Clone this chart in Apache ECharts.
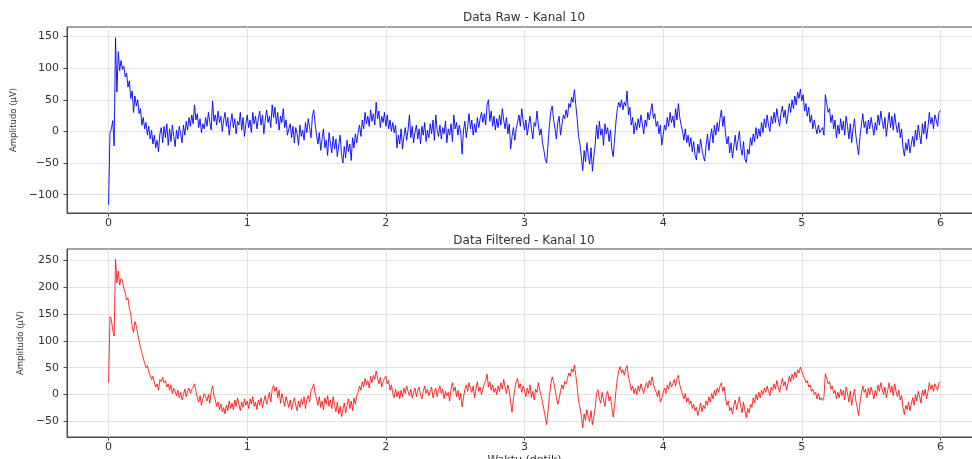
<!DOCTYPE html>
<html><head><meta charset="utf-8">
<script src="https://cdn.jsdelivr.net/npm/echarts@6/dist/echarts.min.js"></script>
<style>html,body{margin:0;padding:0;background:#fff;overflow:hidden}#c{width:972px;height:459px}</style>
</head><body><div id="c"></div><script>
const SAMPLE_RATE = 100; // samples per second (time axis, detik)
const titles = ['Data Raw - Kanal 10', 'Data Filtered - Kanal 10'];
const yLabel = 'Amplitudo (\u03bcV)';
const xLabel = 'Waktu (detik)';
const xTicks = [0, 1, 2, 3, 4, 5, 6];
const rawTicks = [-100, -50, 0, 50, 100, 150];
const filteredTicks = [-50, 0, 50, 100, 150, 200, 250];

const rawValues = [
-116,-2,4,17,-23,148,62,126,96,112,
98,103,86,92,70,80,52,64,30,56,
40,50,28,36,10,22,4,14,-6,8,
-12,2,-20,-6,-26,-14,-32,-4,6,-18,
8,-10,12,-22,4,-16,10,-8,-24,2,
-12,8,-4,-18,10,-6,16,2,22,8,
26,12,42,18,28,6,20,-2,12,4,
22,8,30,14,2,48,16,26,10,32,
14,24,0,18,30,8,22,-6,14,28,
6,20,-4,16,10,30,2,22,-8,12,
26,6,18,-2,30,12,24,4,20,32,
10,26,-4,18,34,14,24,6,42,22,
38,12,30,2,24,14,36,6,18,-6,
4,12,-10,8,-18,6,-4,-22,10,-8,
2,-14,14,-2,20,6,-10,24,34,12,
-6,-20,-2,-30,-12,4,-26,-14,-38,-2,
-18,-34,-8,-28,-12,-40,-22,-6,-36,-50,
-24,-42,-14,-32,-20,-46,-10,-26,-4,-18,
-2,10,-8,18,4,30,12,24,8,34,
16,28,10,46,20,32,6,24,14,30,
8,26,4,18,0,14,-2,10,-26,-6,
-20,4,-28,-8,6,-14,2,26,-10,8,
-18,-2,10,-12,4,-20,8,-6,14,-16,
2,-10,12,-4,18,-14,26,2,-8,10,
-12,6,-4,16,-18,4,-6,12,-16,26,
4,14,-6,10,-2,-36,2,16,-10,8,
28,4,18,-6,12,-2,22,6,20,30,
14,28,10,42,50,16,32,8,24,2,
20,6,26,10,36,18,4,22,-4,12,
-28,-8,6,-14,4,14,26,8,36,16,
2,18,-6,10,24,4,-12,14,8,32,
10,-6,4,-18,-30,-44,-50,-20,10,32,
40,18,4,-12,14,24,-6,10,26,20,
34,22,44,38,54,46,66,42,20,-8,
-20,-40,-62,-30,-48,-18,-38,-52,-26,-63,
-40,-20,10,-12,16,-6,4,-22,12,-4,
6,-16,2,-28,-40,-12,16,36,46,38,
50,34,46,40,64,26,38,10,22,-4,
14,2,20,6,26,12,-4,18,8,30,
18,32,44,20,28,8,16,-4,10,-22,
-6,10,2,22,8,30,14,24,6,36,
18,44,22,10,0,-14,4,-18,-6,-24,
-10,-32,-16,-38,-45,-20,-34,-12,-28,-40,
-47,-22,-4,-30,-10,4,-18,10,-6,14,
0,20,34,8,24,-4,-20,-8,-34,-18,
-42,-24,-6,-30,-14,0,-26,-38,-16,-44,
-49,-28,-36,-10,-22,-4,-16,6,-12,4,
-8,14,-2,20,6,26,10,0,24,12,
30,14,36,20,8,28,40,22,34,12,
26,44,30,50,36,56,42,62,52,67,
48,58,32,44,24,38,14,26,4,18,
6,-4,10,-2,2,6,-6,58,44,30,
36,14,26,4,18,-10,10,-4,20,2,
16,-6,24,8,-12,12,-18,4,20,-6,
-22,-37,-8,10,28,6,16,-4,18,4,
22,8,-6,14,2,26,10,32,16,4,
22,-8,12,30,6,24,2,28,10,-2,
14,-10,4,-26,-39,-18,-30,-12,-34,-20,
-8,-24,2,-14,10,-6,-20,12,-4,16,
-12,6,30,12,22,4,26,18,8,30,
33];

const filteredValues = [
23,145,140,120,109,252,208,230,204,216,
212,198,190,176,180,160,150,126,116,136,
128,112,100,88,78,68,58,50,54,42,
36,28,34,22,14,20,8,28,24,32,
22,26,14,20,8,18,2,12,6,-2,
8,-6,4,-10,0,10,-4,6,12,2,
10,14,20,6,-6,-14,-2,-20,-8,2,
-4,-12,0,-16,6,16,-2,-10,-22,-14,
-28,-18,-32,-24,-36,-20,-30,-12,-26,-16,
-28,-10,-22,-6,-18,-30,-14,-24,-8,-20,
-12,-26,-8,-18,-4,-22,-14,-28,-10,-20,
-6,-24,-12,-2,-18,-8,4,-14,10,17,
6,14,-6,8,-16,2,-10,-22,-4,-14,
-24,-10,-28,-16,-6,-20,-30,-12,-24,-8,
-18,-4,-26,-10,-2,-14,8,12,20,2,
-8,-20,-4,-24,-12,-28,-6,-18,-2,-22,
-10,-26,-4,-20,-32,-14,-36,-22,-41,-28,
-16,-34,-20,-8,-26,-12,-30,-6,-18,-2,
4,16,8,24,14,30,18,26,12,34,
22,36,28,44,30,20,32,14,24,30,
34,20,26,8,18,2,-6,10,-4,6,
-8,8,-4,12,2,16,6,-2,10,-6,
4,12,-4,8,14,0,-8,6,16,2,
10,-2,6,14,-6,4,12,-4,8,16,
2,10,-8,6,-2,4,-12,10,22,6,
14,-4,8,-10,2,-23,-6,10,18,6,
22,12,4,16,-6,10,24,6,14,0,
10,20,26,38,14,24,8,18,4,12,
0,16,6,22,10,28,14,2,18,6,
-14,-33,-8,10,24,30,12,20,4,16,
8,-4,12,2,18,-6,6,-10,10,4,
22,8,-2,-14,-28,-42,-56,-30,-2,20,
33,24,10,-4,-18,-8,6,18,10,24,
20,30,40,34,48,42,55,36,14,-12,
-24,-40,-62,-36,-48,-28,-42,-50,-30,-56,
-42,-24,2,9,-8,-16,4,-10,-22,0,
6,-12,-4,-24,-42,-20,8,30,44,52,
40,46,36,48,54,32,22,8,16,2,
12,0,16,6,20,10,2,14,22,12,
26,18,33,20,10,4,-4,8,-14,-8,
4,12,2,18,10,24,14,20,28,16,
30,36,18,8,0,-8,2,-14,-6,-18,
-12,-26,-18,-30,-24,-39,-28,-16,-32,-20,
-26,-12,-20,-4,-14,2,-8,8,-2,12,
4,16,22,6,14,-6,-20,-12,-30,-24,
-36,-20,-10,-28,-16,-4,-22,-34,-14,-30,
-43,-26,-34,-18,-24,-6,-16,0,-10,4,
-6,8,0,12,4,16,6,-2,14,8,
20,10,26,14,4,18,30,16,24,8,
20,34,24,38,28,42,32,46,40,51,
44,36,30,22,26,14,18,6,10,0,
4,-8,2,-10,-6,-11,-4,39,30,20,
24,10,16,2,8,-8,4,-6,10,-2,
8,-10,14,2,-14,6,-20,-4,10,-12,
-24,-39,-14,2,16,4,10,-6,12,0,
14,4,-8,8,-2,18,6,22,10,0,
14,-6,8,22,4,16,-2,20,6,-4,
8,-10,-2,-24,-37,-20,-28,-14,-30,-18,
-6,-20,0,-12,6,-4,-16,8,-2,10,
-8,4,22,10,18,6,20,14,8,22,
24];

const toPairs = vals => vals.map((v, i) => [i / SAMPLE_RATE, v]);
const fmtNum = v => (v < 0 ? '\u2212' + Math.abs(v) : String(v));

const FONT = 'DejaVu Sans';
const TXT = '#333333';
const SPINE = '#4a4a4a';
const GRIDC = '#e2e2e2';

function xAxisCfg(gi, withName) {
  return {
    type: 'value', gridIndex: gi, min: -0.3, max: 6.3,
    minInterval: 1, maxInterval: 1,
    axisLine: { show: true, onZero: false, lineStyle: { color: SPINE, width: 1 } },
    axisTick: { show: true, length: 3.5, customValues: xTicks, lineStyle: { color: SPINE } },
    axisLabel: { margin: 5, fontSize: 11, fontFamily: FONT, color: TXT, customValues: xTicks, formatter: v => fmtNum(v) },
    splitLine: { show: true, lineStyle: { color: GRIDC, width: 1 } },
    name: withName ? xLabel : '', nameLocation: 'middle', nameGap: 18,
    nameTextStyle: { fontSize: 11, fontFamily: FONT, color: TXT }
  };
}
function yAxisCfg(gi, mn, mx, ticks, gap) {
  return {
    type: 'value', gridIndex: gi, min: mn, max: mx,
    minInterval: 50, maxInterval: 50,
    axisLine: { show: true, onZero: false, lineStyle: { color: SPINE, width: 1 } },
    axisTick: { show: true, length: 3.5, customValues: ticks, lineStyle: { color: SPINE } },
    axisLabel: { margin: 8, fontSize: 11, fontFamily: FONT, color: TXT, customValues: ticks, formatter: v => fmtNum(v) },
    splitLine: { show: true, lineStyle: { color: GRIDC, width: 1 } },
    name: yLabel, nameLocation: 'middle', nameGap: gap,
    nameTextStyle: { fontSize: 8.5, fontFamily: FONT, color: TXT }
  };
}

const chart = echarts.init(document.getElementById('c'), null, { renderer: 'canvas' });
chart.setOption({
  animation: false,
  backgroundColor: '#ffffff',
  title: [
    { text: titles[0], left: 524, top: 12, textAlign: 'center', textStyle: { fontSize: 12, fontWeight: 'normal', fontFamily: FONT, color: TXT }, padding: 0 },
    { text: titles[1], left: 524, top: 235, textAlign: 'center', textStyle: { fontSize: 12, fontWeight: 'normal', fontFamily: FONT, color: TXT }, padding: 0 }
  ],
  grid: [
    { left: 67, top: 27, width: 915, height: 186, show: true, borderColor: SPINE, borderWidth: 1, containLabel: false, outerBoundsMode: 'none' },
    { left: 67, top: 249, width: 915, height: 188, show: true, borderColor: SPINE, borderWidth: 1, containLabel: false, outerBoundsMode: 'none' }
  ],
  xAxis: [xAxisCfg(0, false), xAxisCfg(1, true)],
  yAxis: [yAxisCfg(0, -129, 165, rawTicks, 41.5), yAxisCfg(1, -79, 271, filteredTicks, 34)],
  series: [
    { type: 'line', xAxisIndex: 0, yAxisIndex: 0, data: toPairs(rawValues), showSymbol: false, symbol: 'none',
      lineStyle: { color: '#0000ff', width: 1, opacity: 0.9 }, sampling: null, z: 3 },
    { type: 'line', xAxisIndex: 1, yAxisIndex: 1, data: toPairs(filteredValues), showSymbol: false, symbol: 'none',
      lineStyle: { color: '#ff0000', width: 0.9, opacity: 0.9 }, sampling: null, z: 3 }
  ]
});
</script></body></html>
